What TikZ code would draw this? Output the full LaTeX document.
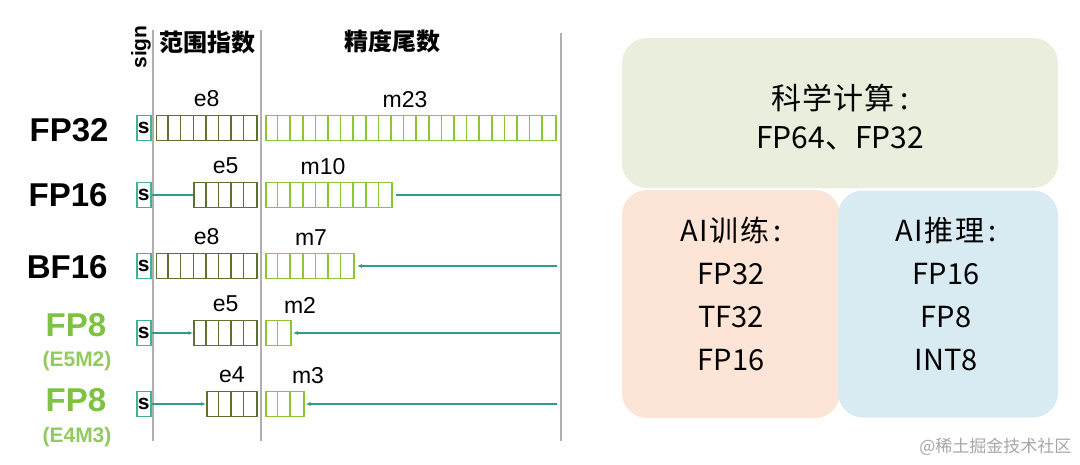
\documentclass[tikz,border=0pt]{standalone}
\usepackage{fontspec}
\setmainfont{Liberation Sans}
\newfontfamily\cjk{Noto Sans CJK SC}
\usepackage{xcolor}
\usepackage{tikz}
\usetikzlibrary{arrows.meta, calc}

\definecolor{signcol}{RGB}{62,180,150}
\definecolor{linecol}{RGB}{46,158,138}
\definecolor{expcol}{RGB}{96,112,48}
\definecolor{mantcol}{RGB}{140,198,50}
\definecolor{fpgreen}{RGB}{125,194,66}
\definecolor{guidecol}{RGB}{175,175,175}
\definecolor{scifill}{RGB}{233,239,220}
\definecolor{trainfill}{RGB}{252,229,214}
\definecolor{inferfill}{RGB}{216,235,242}

\begin{document}
\begin{tikzpicture}[
    x=1pt, y=-1pt,
    fmt/.style={anchor=east, font=\fontsize{33}{36}\selectfont\bfseries},
    fmtgreen/.style={font=\fontsize{33}{36}\selectfont\bfseries, text=fpgreen},
    sub/.style={font=\fontsize{21}{23}\selectfont\bfseries, text=fpgreen!85},
    header/.style={font=\cjk\bfseries\fontsize{24}{26}\selectfont},
    signbox/.style={draw=signcol, line width=1.5pt, minimum width=14pt, minimum height=25pt, inner sep=0pt, anchor=west, font=\fontsize{21}{22}\selectfont\bfseries},
    cells/.style={minimum width=#1*12.6pt},
    expo/.style={draw=expcol, line width=1.7pt, minimum height=25pt, inner sep=0pt, anchor=east},
    mant/.style={draw=mantcol, line width=1.7pt, minimum height=25pt, inner sep=0pt, anchor=west},
    bits/.style={font=\fontsize{23}{25}\selectfont},
    line/.style={draw=linecol, line width=1.5pt},
    tip/.style={line, -{Latex[length=5pt, width=4pt]}},
    guide/.style={draw=guidecol, line width=1.3pt},
    panel/.style={rectangle, rounded corners=25pt, inner sep=0pt},
    usage/.style={align=center, font=\cjk\fontsize{29}{43}\selectfont}
]
    \useasboundingbox (0,0) rectangle (1080,464);

    % Guides and headers
    \draw[guide] (153,30) -- (153,441);
    \draw[guide] (261,30) -- (261,441);
    \draw[guide] (561,33) -- (561,441);
    \node[rotate=90, font=\fontsize{21}{23}\selectfont\bfseries] (sign) at (141,47) {sign};
    \node[header] (range) at (207,42) {范围指数};
    \node[header] (prec) at (392,41) {精度尾数};

    % FP32
    \node[fmt] (fpa) at (112,130) {FP32};
    \node[signbox] (fpas) at (136,128) {s};
    \node[expo, cells=8] (fpae) at (258,128) {};
    \node[mant, cells=23] (fpam) at (265,128) {};
    \node[bits] (fpael) at ($(fpae.north)+(0,-16)$) {e8};
    \node[bits] (fpaml) at (405,100) {m23};

    % FP16
    \node[fmt] (fpb) at (111,195) {FP16};
    \node[signbox] (fpbs) at (136,195) {s};
    \node[expo, cells=5] (fpbe) at (258,195) {};
    \node[mant, cells=10] (fpbm) at (265,195) {};
    \node[bits] (fpbel) at ($(fpbe.north)+(0,-16)$) {e5};
    \node[bits] (fpbml) at (323,167) {m10};
    \coordinate (fpbend) at (561,195);

    % BF16
    \node[fmt] (bf) at (111,267) {BF16};
    \node[signbox] (bfs) at (136,266) {s};
    \node[expo, cells=8] (bfe) at (258,266) {};
    \node[mant, cells=7] (bfm) at (265,266) {};
    \node[bits] (bfel) at ($(bfe.north)+(0,-16)$) {e8};
    \node[bits] (bfml) at (311,238) {m7};
    \coordinate (bfend) at (557,266);

    % FP8 (E5M2)
    \node[fmtgreen] (fpc) at (76,325) {FP8};
    \node[sub] (fpcsub) at (77,361) {(E5M2)};
    \node[signbox] (fpcs) at (136,333) {s};
    \node[expo, cells=5] (fpce) at (258,333) {};
    \node[mant, cells=2] (fpcm) at (265,333) {};
    \node[bits] (fpcel) at ($(fpce.north)+(0,-16)$) {e5};
    \node[bits] (fpcml) at (300,305) {m2};
    \coordinate (fpcend) at (560,333);

    % FP8 (E4M3)
    \node[fmtgreen] (fpd) at (76,400) {FP8};
    \node[sub] (fpdsub) at (77,437) {(E4M3)};
    \node[signbox] (fpds) at (136,404) {s};
    \node[expo, cells=4] (fpde) at (258,404) {};
    \node[mant, cells=3] (fpdm) at (265,404) {};
    \node[bits] (fpdel) at ($(fpde.north)+(0,-16)$) {e4};
    \node[bits] (fpdml) at (308,376) {m3};
    \coordinate (fpdend) at (557,404);

    % Cell dividers
    \foreach \f/\n/\col in {fpae/8/expcol, fpam/23/mantcol, fpbe/5/expcol, fpbm/10/mantcol,
                            bfe/8/expcol, bfm/7/mantcol, fpce/5/expcol, fpcm/2/mantcol,
                            fpde/4/expcol, fpdm/3/mantcol} {
        \pgfmathtruncatemacro{\last}{\n-1}
        \foreach \i in {1,...,\last}
            \draw[\col, line width=1.5pt] ($(\f.north west)+(\i*12.6,0)$) -- ($(\f.south west)+(\i*12.6,0)$);
    }

    % Connectors
    \draw[line] (fpbs) -- (fpbe);
    \draw[line, shorten <=3pt] (fpbm) -- (fpbend);
    \draw[tip, shorten >=2pt] (bfend) -- (bfm);
    \draw[tip] (fpcs) -- (fpce);
    \draw[tip, shorten >=1pt] (fpcend) -- (fpcm);
    \draw[tip] (fpds) -- (fpde);
    \draw[tip, shorten >=1pt] (fpdend) -- (fpdm);

    % Usage panels
    \node[panel, fill=scifill, minimum width=436pt, minimum height=150pt] (sci) at (840,113) {};
    \node[panel, fill=trainfill, minimum width=218pt, minimum height=228pt] (train) at (731,304) {};
    \node[panel, fill=inferfill, minimum width=220pt, minimum height=227pt] (infer) at (948,304) {};
    \node[usage, font=\cjk\fontsize{30}{39}\selectfont] (scitxt) at (840,117)
        {{\addfontfeatures{LetterSpace=4}科学计算\hspace{0.2em}:}\\FP64、FP32};
    \node[usage] (traintxt) at (731,294)
        {{\addfontfeatures{LetterSpace=6}AI训练\hspace{0.15em}:}\\FP32\\TF32\\FP16};
    \node[usage] (infertxt) at (946,294)
        {{\addfontfeatures{LetterSpace=6}AI推理\hspace{0.15em}:}\\FP16\\FP8\\INT8};

    \node[anchor=east, text=black!35, font=\cjk\fontsize{17}{19}\selectfont] (mark) at (1075,447) {@稀土掘金技术社区};
\end{tikzpicture}
\end{document}
